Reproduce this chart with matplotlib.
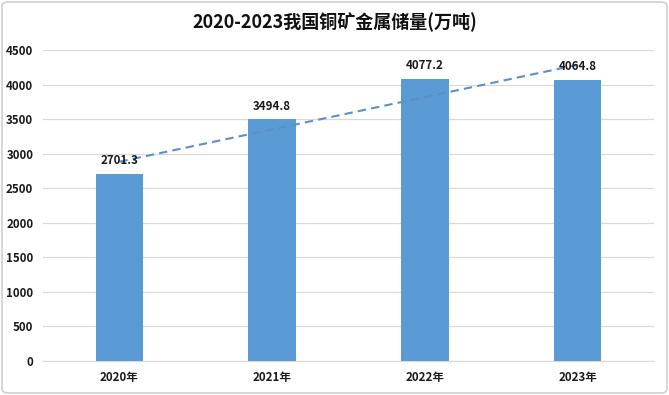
import matplotlib
matplotlib.use("Agg")
import matplotlib.pyplot as plt
import numpy as np
from matplotlib.patches import FancyBboxPatch

plt.rcParams['font.family'] = ['Noto Sans CJK SC', 'DejaVu Sans']

title = "2020-2023我国铜矿金属储量(万吨)"
categories = ["2020年", "2021年", "2022年", "2023年"]
values = [2701.3, 3494.8, 4077.2, 4064.8]
yticks = [0, 500, 1000, 1500, 2000, 2500, 3000, 3500, 4000, 4500]

bar_color = "#5B9BD5"
grid_color = "#D9D9D9"

fig = plt.figure(figsize=(6.69, 3.95), dpi=100)
ax = fig.add_axes([43/669, 1 - 361/395, (654-43)/669, (361-50)/395])

x = np.arange(len(categories))
ax.bar(x, values, width=0.31, color=bar_color, zorder=3)

# linear trendline
coef = np.polyfit(x, values, 1)
ax.plot(x, np.polyval(coef, x), linestyle=(0, (4, 2.5)), color="#5B8FC8", lw=1.5, zorder=4)

for xi, v in zip(x, values):
    ax.text(xi, v + 100, f"{v:.1f}", ha="center", va="bottom", fontsize=8.3,
            fontweight="bold", color="#1a1a1a", zorder=5)

ax.set_xlim(-0.5, len(categories) - 0.5)
ax.set_ylim(0, 4500)
ax.set_yticks(yticks)
ax.set_yticklabels([str(t) for t in yticks], fontsize=8.3, color="#1a1a1a", fontweight="bold")
ax.set_xticks(x)
ax.set_xticklabels(categories, fontsize=8.3, fontweight="bold", color="#1a1a1a")
ax.tick_params(axis="both", length=0)
ax.tick_params(axis="y", pad=7)
ax.tick_params(axis="x", pad=7)
ax.grid(axis="y", color=grid_color, lw=0.9, zorder=0)
for s in ["top", "right", "left"]:
    ax.spines[s].set_visible(False)
ax.spines["bottom"].set_color(grid_color)

fig.text(0.5, 1 - 22/395, title, ha="center", va="center", fontsize=13,
         fontweight="bold", color="#111111")

border = FancyBboxPatch((2/669, 2/395), 665/669, 391/395,
                        boxstyle="round,pad=0,rounding_size=0.01",
                        transform=fig.transFigure, fill=False,
                        edgecolor="#D0D0D0", lw=1.2)
fig.patches.append(border)

fig.savefig("out.png", dpi=100)
